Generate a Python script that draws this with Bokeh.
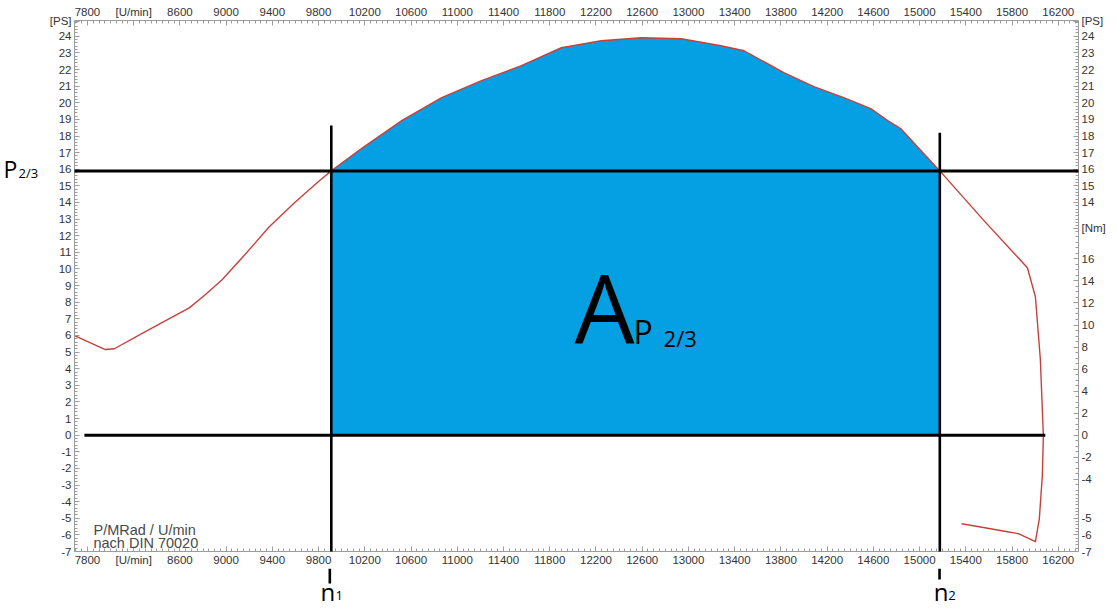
import numpy as np
from bokeh.plotting import figure
from bokeh.layouts import column, row
from bokeh.models import LinearAxis, FixedTicker, Range1d, Label, Arrow
from bokeh.embed import file_html
from bokeh.resources import INLINE

# ---------------- data ----------------
# power curve P [PS] over engine speed [U/min]
curve_rpm = [7688, 7955, 8033, 8301, 8681, 8819, 8965, 9138, 9371, 9596, 9812, 9910,
             10174, 10519, 10865, 11210, 11555, 11901, 12246, 12591, 12937, 13282, 13481,
             13826, 14085, 14344, 14577, 14724, 14836, 15009, 15175,
             15553, 15933, 16002, 16045, 16071, 16062, 16036, 16002, 15855, 15760, 15466, 15363]
curve_ps = [5.99, 5.15, 5.20, 6.23, 7.66, 8.45, 9.35, 10.67, 12.52, 14.02, 15.34, 15.90,
            17.26, 18.93, 20.31, 21.33, 22.23, 23.31, 23.73, 23.91, 23.85, 23.43, 23.13,
            21.81, 20.97, 20.31, 19.65, 18.93, 18.45, 17.14, 15.90,
            12.94, 10.07, 8.33, 4.55, -0.06, -2.46, -5.03, -6.41, -5.93, -5.81, -5.45, -5.33]

n1 = 9910      # U/min
n2 = 15175     # U/min
p23 = 15.9     # PS  (2/3 of max power)

# axis ticks / labels
x_ticks = list(range(7800, 16201, 400))
x_unit_tick = 8200
x_unit_label = "[U/min]"
ps_left_ticks = list(range(-7, 25))
ps_right_ticks = list(range(14, 25)) + [-5, -6, -7]
ps_unit_at = 24.9
nm_ticks = [16, 14, 12, 10, 8, 6, 4, 2, 0, -2, -4]
nm_unit_at = 18.8           # Nm
nm_box = (-5.15, 19.0)      # Nm range of the inset torque scale
NM_IN_PS = 0.6628           # 1 Nm on the inset scale = 0.6628 PS on the main scale

# ---------------- layout sizes ----------------
W, H = 1116, 608
LEFT_W = 46          # strip left of the main figure (for the P2/3 label)
BOT_H = 40           # strip below the main figure (for n1 / n2)
FR_L, FR_R, FR_T, FR_B = 72, 38, 20, 15   # frame borders of the main figure

X0, X1 = 7688, 16375
Y0, Y1 = -7, 24.95
xr = Range1d(X0, X1)
yr = Range1d(Y0, Y1)

p = figure(width=W - LEFT_W, height=H - BOT_H, output_backend="svg", toolbar_location=None,
           x_range=xr, y_range=yr,
           min_border_left=FR_L - LEFT_W, min_border_right=FR_R,
           min_border_top=FR_T, min_border_bottom=FR_B,
           background_fill_color="white", border_fill_color="white")
p.outline_line_color = None
p.grid.visible = False

AX = "#9c9c9c"
def style(ax, standoff=3):
    ax.axis_line_color = AX
    ax.major_tick_line_color = AX
    ax.minor_tick_line_color = AX
    ax.major_tick_in = 5
    ax.major_tick_out = 0
    ax.minor_tick_in = 3
    ax.minor_tick_out = 0
    ax.major_label_text_font = "Liberation Sans"
    ax.major_label_text_font_size = "11.5px"
    ax.major_label_text_color = "#333333"
    ax.major_label_standoff = standoff

x_minor = list(range(7700, 16400, 50))
x_over = {t: str(t) for t in x_ticks}
x_over[x_unit_tick] = x_unit_label

p.xaxis.ticker = FixedTicker(ticks=x_ticks, minor_ticks=x_minor)
p.xaxis.major_label_overrides = x_over
style(p.xaxis[0], standoff=2)
top = LinearAxis(ticker=FixedTicker(ticks=x_ticks, minor_ticks=x_minor),
                 major_label_overrides=dict(x_over))
style(top)
p.add_layout(top, "above")

ps_minor = [round(v, 2) for v in np.arange(-7, 24.95, 0.2)]
left_ticks = ps_left_ticks + [ps_unit_at]
left_over = {t: str(t) for t in ps_left_ticks}
left_over[ps_unit_at] = "[PS]"
p.yaxis.ticker = FixedTicker(ticks=left_ticks, minor_ticks=ps_minor)
p.yaxis.major_label_overrides = left_over
style(p.yaxis[0])

# right axis: PS scale outside inset, Nm scale inside inset
box_lo, box_hi = nm_box[0] * NM_IN_PS, nm_box[1] * NM_IN_PS
nm_pos = [round(n * NM_IN_PS, 4) for n in nm_ticks]
nm_unit_pos = round(nm_unit_at * NM_IN_PS, 4)
right_ticks = ps_right_ticks + [ps_unit_at] + nm_pos + [nm_unit_pos]
right_over = {t: str(t) for t in ps_right_ticks}
right_over[ps_unit_at] = "[PS]"
for n, pos in zip(nm_ticks, nm_pos):
    right_over[pos] = str(n)
right_over[nm_unit_pos] = "[Nm]"
right_minor = [v for v in ps_minor if v < box_lo or v > box_hi]
right_minor += [round(v * NM_IN_PS, 4) for v in np.arange(-5.0, 18.6, 0.5)]
right = LinearAxis(ticker=FixedTicker(ticks=right_ticks, minor_ticks=right_minor),
                   major_label_overrides=right_over)
style(right)
p.add_layout(right, "right")

# ---------------- marks ----------------
rpm_a = np.array(curve_rpm)
ps_a = np.array(curve_ps)
k_end = curve_rpm.index(n2)
k_start = curve_rpm.index(n1)
p.varea(x=rpm_a[k_start:k_end + 1], y1=0, y2=ps_a[k_start:k_end + 1],
        fill_color="#05a0e4", fill_alpha=1.0)
p.line(curve_rpm, curve_ps, line_color="#c8403a", line_width=1.4, line_join="round")

def seg(fig, x0, y0, x1, y1, w=3, c="black"):
    fig.add_layout(Arrow(end=None, x_start=x0, y_start=y0, x_end=x1, y_end=y1,
                         line_color=c, line_width=w, level="overlay"))

seg(p, 7498, p23, 16660, p23)          # P 2/3 line
seg(p, 7774, 0, 16088, 0)              # zero line
seg(p, n1, 18.63, n1, -10, w=2.6)      # n1 (continues in the bottom strip)
seg(p, n2, 18.2, n2, -10, w=2.6)       # n2

# inset box of the Nm scale
seg(p, 16399, box_lo, 16632, box_lo, w=1, c=AX)
seg(p, 16399, box_hi, 16451, box_hi, w=1, c=AX)
seg(p, 16399, box_lo, 16399, box_hi, w=1, c=AX)

# ---------------- texts ----------------
F = "Open Sans"
PX_PER_PS = 16.68
def lab(fig, x, base, t, size, px_per_unit=PX_PER_PS, font=F, color="black"):
    # base = wanted baseline; compensate the renderer's baseline shift
    y = base + 0.39 * size / px_per_unit
    fig.add_layout(Label(x=x, y=y, text=t, text_font=font, text_font_size=f"{size}px",
                         text_color=color, text_align="left", text_baseline="alphabetic",
                         level="overlay"))

lab(p, 12015, 5.51, "A", 95)
lab(p, 12525, 5.51, "P", 32)
lab(p, 12785, 5.33, "2/3", 22)

lab(p, 7852, -6.05, "P/MRad / U/min", 14.5, font="Liberation Sans", color="#4a4a4a")
lab(p, 7852, -6.83, "nach DIN 70020", 14.5, font="Liberation Sans", color="#4a4a4a")

# left strip: P2/3 label (pixel units, same vertical scale as the main frame)
lp = figure(width=LEFT_W, height=H - BOT_H, output_backend="svg", toolbar_location=None,
            x_range=Range1d(0, LEFT_W), y_range=yr,
            x_axis_location=None, y_axis_location=None,
            min_border_left=0, min_border_right=0, min_border_top=FR_T, min_border_bottom=FR_B,
            background_fill_color="white", border_fill_color="white")
lp.outline_line_color = None
lp.grid.visible = False
lab(lp, 3, 15.46, "P", 23)
lab(lp, 18, 15.46, "2/3", 13)

# bottom strip: n1 / n2 labels (x shared with the main figure, y in pixels)
bp = figure(width=W, height=BOT_H, output_backend="svg", toolbar_location=None,
            x_range=xr, y_range=Range1d(0, BOT_H),
            x_axis_location=None, y_axis_location=None,
            min_border_left=FR_L, min_border_right=FR_R, min_border_top=0, min_border_bottom=0,
            background_fill_color="white", border_fill_color="white")
bp.outline_line_color = None
bp.grid.visible = False
bp.segment(x0=[n1, n2], y0=[BOT_H, BOT_H], x1=[n1, n2], y1=[25, 29],
           line_color="black", line_width=2.6)
lab(bp, 9830, 8, "n", 24, px_per_unit=1)
lab(bp, 9958, 8, "1", 13, px_per_unit=1)
lab(bp, 15124, 8, "n", 24, px_per_unit=1)
lab(bp, 15251, 8, "2", 13, px_per_unit=1)

layout = column(row(lp, p, spacing=0), bp, spacing=0)
open("out.html", "w").write(file_html(layout, INLINE))
